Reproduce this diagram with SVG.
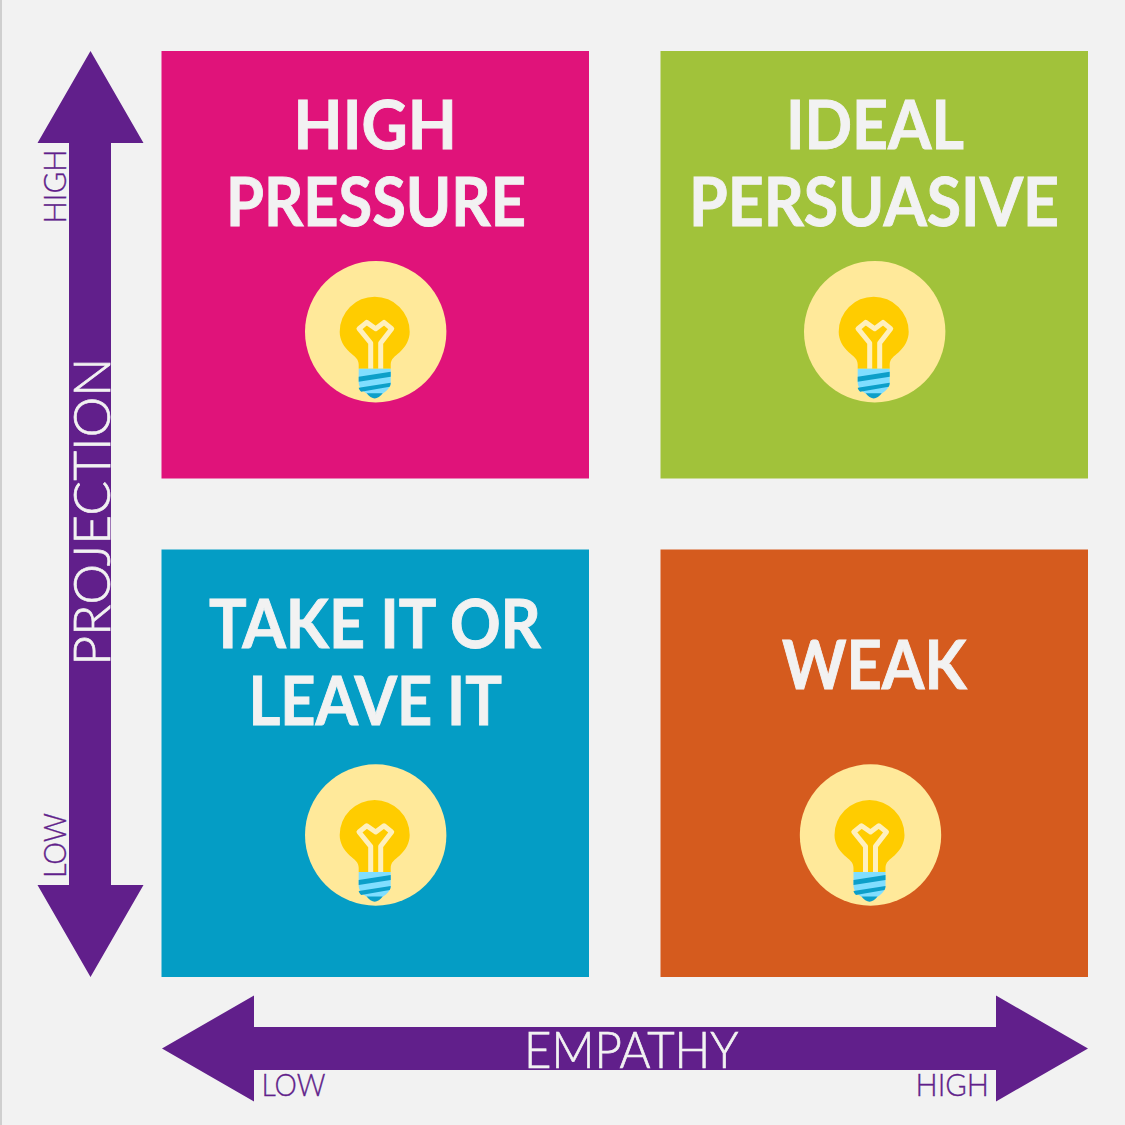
<svg xmlns="http://www.w3.org/2000/svg" xmlns:xlink="http://www.w3.org/1999/xlink" width="1125" height="1125" viewBox="0 0 1125 1125">
<style>
.t{font-family:"Lato","Liberation Sans",sans-serif;font-weight:700;font-size:66px;fill:#f2f2f2;stroke:#f2f2f2;stroke-width:.9px}
.a{font-family:"Lato","Liberation Sans",sans-serif;font-weight:300;font-size:52px;fill:#f2f2f2;stroke:#f2f2f2;stroke-width:.7px}
.s{font-family:"Lato","Liberation Sans",sans-serif;font-weight:300;font-size:32px;fill:#611f8b;stroke:#611f8b;stroke-width:.35px}
.arrow{fill:#611f8b}
</style>
<defs>
<g id="bulb">
<circle r="70.7" fill="#ffe99a"/>
<path d="M-17,37 L-17,33 C-17,27 -21,25 -26,20.500 C-32,15 -36,8 -36,0 A35,35 0 0 1 34,0 C34,8 30,15 24,20.500 C19,25 15,27 15,33 L15,37 Z" fill="#ffcc00"/>
<path d="M-5,37 V11.300 L-16.700,-3 L-9,-9.300 L0,-3 L8.300,-9.300 L16,-3 L5,11.300 V37" fill="none" stroke="#fff0bd" stroke-width="5" stroke-linejoin="round"/>
<path d="M-17,37 H15 V51 C15,57 8,61 4,64 H-6 C-10,61 -17,57 -17,51 Z" fill="#80deff"/>
<path d="M-17,45 L15,40 V45 L-17,50 Z M-17,56 L15,51 C15,52.500 14.700,53.600 14,55 L-14.500,60 C-16,58.500 -16.700,57.500 -17,56 Z" fill="#0c9fc9"/>
<path d="M-9,61.500 H7 C5,64.500 1.500,66.700 -1,66.700 C-3.500,66.700 -7,64.500 -9,61.500 Z" fill="#0c9fc9"/>
</g>
</defs>
<rect width="1125" height="1125" fill="#f2f2f2"/>
<rect width="2" height="1125" fill="#cfcfcf"/>
<g id="connectors">
<path id="axis-y" class="arrow" d="M90.500,51 L143.500,143 H111 V885 H143.500 L90.500,977 L37.500,885 H69 V143 H37.500 Z"/>
<path id="axis-x" class="arrow" d="M162,1048.500 L254,995.500 V1027 H996 V995.500 L1088,1048.500 L996,1101.500 V1070 H254 V1101.500 Z"/>
</g>
<g id="node-high-pressure">
<rect x="161.500" y="51" width="427.500" height="427.500" fill="#e0137a"/>
<text class="t" x="293.500" y="148.500" textLength="163.500" lengthAdjust="spacingAndGlyphs">HIGH</text>
<text class="t" x="226" y="225.500" textLength="300" lengthAdjust="spacingAndGlyphs">PRESSURE</text>
<use xlink:href="#bulb" href="#bulb" x="375.700" y="331.700"/>
</g>
<g id="node-ideal-persuasive">
<rect x="660.500" y="51" width="427.500" height="427.500" fill="#a1c23a"/>
<text class="t" x="786" y="148.500" textLength="178" lengthAdjust="spacingAndGlyphs">IDEAL</text>
<text class="t" x="689" y="225.500" textLength="370" lengthAdjust="spacingAndGlyphs">PERSUASIVE</text>
<use xlink:href="#bulb" href="#bulb" x="874.700" y="331.700"/>
</g>
<g id="node-take-it-or-leave-it">
<rect x="161.500" y="549.500" width="427.500" height="427.500" fill="#049dc5"/>
<text class="t" x="209" y="648" textLength="332" lengthAdjust="spacingAndGlyphs">TAKE IT OR</text>
<text class="t" x="248.500" y="725" textLength="253.500" lengthAdjust="spacingAndGlyphs">LEAVE IT</text>
<use xlink:href="#bulb" href="#bulb" x="375.700" y="835"/>
</g>
<g id="node-weak">
<rect x="660.500" y="549.500" width="427.500" height="427.500" fill="#d55b1e"/>
<text class="t" x="782" y="689" textLength="184.500" lengthAdjust="spacingAndGlyphs">WEAK</text>
<use xlink:href="#bulb" href="#bulb" x="870.500" y="835"/>
</g>
<g id="axis-labels">
<text class="a" x="524" y="1068" textLength="214.500" lengthAdjust="spacingAndGlyphs">EMPATHY</text>
<text class="a" transform="translate(110,665.700) rotate(-90)" textLength="308" lengthAdjust="spacingAndGlyphs">PROJECTION</text>
<text class="s" x="261.500" y="1096" textLength="64" lengthAdjust="spacingAndGlyphs">LOW</text>
<text class="s" x="915.500" y="1096" textLength="73.500" lengthAdjust="spacingAndGlyphs">HIGH</text>
<text class="s" transform="translate(66,223.500) rotate(-90)" textLength="74" lengthAdjust="spacingAndGlyphs">HIGH</text>
<text class="s" transform="translate(66,878) rotate(-90)" textLength="65" lengthAdjust="spacingAndGlyphs">LOW</text>
</g>
</svg>
